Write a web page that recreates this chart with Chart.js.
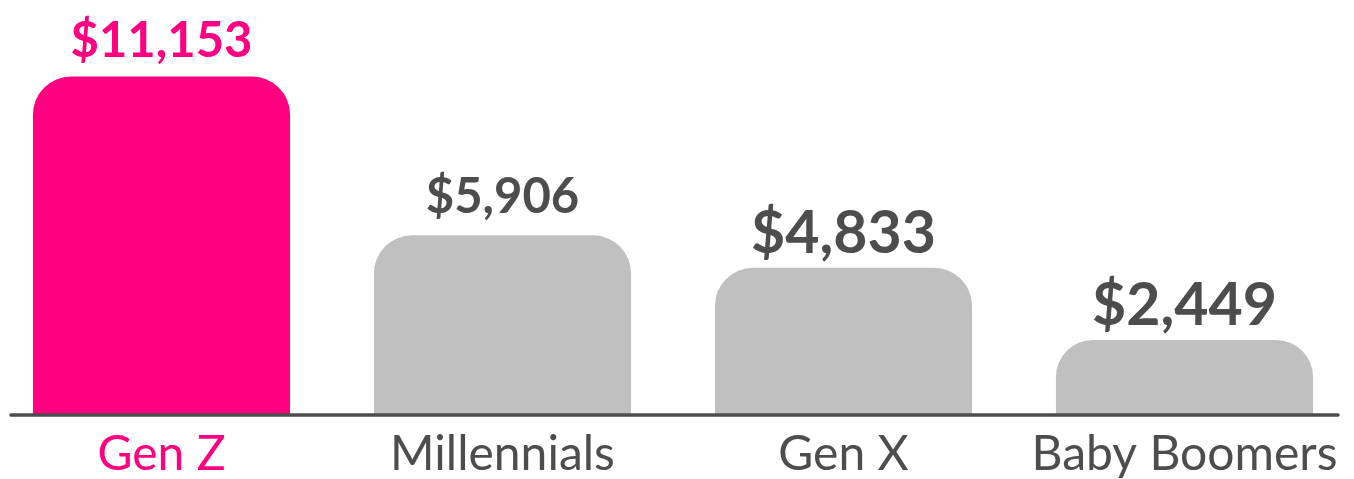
<!DOCTYPE html>
<html>
<head>
<meta charset="utf-8">
<script src="https://cdn.jsdelivr.net/npm/chart.js@4"></script>
<style>
  html, body { margin: 0; padding: 0; background: #fff; overflow: hidden; }
  #wrap { position: absolute; left: -20px; top: 0; width: 1394px; height: 479px; }
</style>
</head>
<body>
<div id="wrap"><canvas id="chart"></canvas></div>
<script>
const generations = ["Gen Z", "Millennials", "Gen X", "Baby Boomers"];
const spending = [11153, 5906, 4833, 2449];
const valueLabels = ["$11,153", "$5,906", "$4,833", "$2,449"];

const pink = "#FF0080";
const grey = "#4D4D4D";
const barGrey = "#C0C0C0";
const labelSizes = [49, 49, 59, 59];
const labelGaps = [20, 22, 15, 15];

const valueLabelPlugin = {
  id: "valueLabels",
  afterDatasetsDraw(chart) {
    const ctx = chart.ctx;
    const meta = chart.getDatasetMeta(0);
    ctx.save();
    ctx.textAlign = "center";
    ctx.textBaseline = "alphabetic";
    meta.data.forEach((bar, i) => {
      ctx.font = "bold " + labelSizes[i] + "px Lato";
      ctx.fillStyle = i === 0 ? pink : grey;
      ctx.fillText(valueLabels[i], bar.x, bar.y - labelGaps[i]);
    });
    // baseline
    const y = chart.scales.y.getPixelForValue(0);
    ctx.strokeStyle = grey;
    ctx.lineWidth = 3.5;
    ctx.lineCap = "round";
    ctx.beginPath();
    ctx.moveTo(31, y + 1);
    ctx.lineTo(1358, y + 1);
    ctx.stroke();
    ctx.restore();
  }
};

let ctx = document.getElementById("chart").getContext("2d");
window.chart = new Chart(ctx, {
  type: "bar",
  data: {
    labels: generations,
    datasets: [
      {
        data: spending,
        backgroundColor: [pink, barGrey, barGrey, barGrey],
        borderRadius: { topLeft: 38, topRight: 38 },
        borderSkipped: "bottom",
        barPercentage: 0.754,
        categoryPercentage: 1
      }
    ]
  },
  options: {
    responsive: true,
    maintainAspectRatio: false,
    animation: false,
    layout: { padding: { top: 51, left: 11, right: 19, bottom: 0 } },
    plugins: { legend: { display: false }, tooltip: { enabled: false } },
    scales: {
      x: {
        grid: { display: false, drawTicks: false },
        border: { display: false },
        afterFit: (scale) => { scale.height = 65; },
        ticks: {
          padding: 12,
          color: (c) => c.index === 0 ? pink : grey,
          font: { family: "Lato", size: 48 }
        }
      },
      y: {
        display: false,
        min: 0,
        max: 12000
      }
    }
  },
  plugins: [valueLabelPlugin]
});
</script>
</body>
</html>
